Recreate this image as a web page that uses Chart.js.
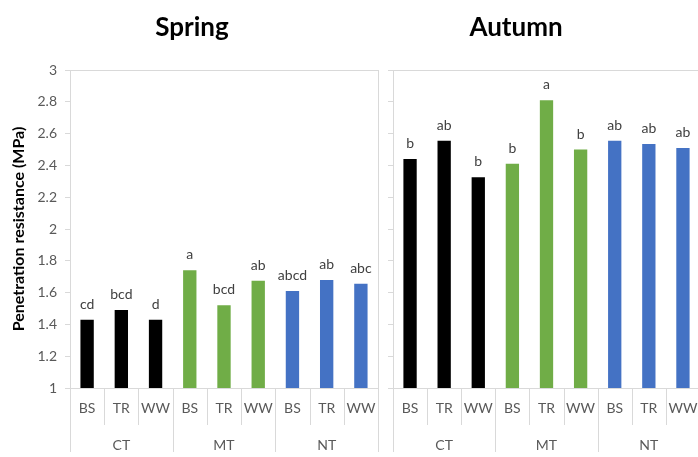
<!DOCTYPE html>
<html>
<head>
<meta charset="utf-8">
<script src="https://cdn.jsdelivr.net/npm/chart.js@4.4.0/dist/chart.umd.min.js"></script>
<style>
  html, body { margin: 0; padding: 0; background: #fff; overflow: hidden; width: 698px; height: 457px; }
  #wrap { position: relative; width: 698px; height: 457px; }
  canvas { position: absolute; top: 0; }
  #springCanvas { left: 0; }
  #autumnCanvas { left: 385px; }
  .season { position: absolute; top: 11px; font: bold 26px Lato, "Liberation Sans", sans-serif; color: #000; line-height: 30px; text-align: center; width: 160px; }
  #springTitle { left: 112px; }
  #autumnTitle { left: 436px; }
</style>
</head>
<body>
<div id="wrap">
  <canvas id="springCanvas" width="385" height="457"></canvas>
  <canvas id="autumnCanvas" width="320" height="457"></canvas>
  <div class="season" id="springTitle">Spring</div>
  <div class="season" id="autumnTitle">Autumn</div>
</div>
<script>
// Residue treatments (inner axis level) and tillage systems (outer axis level)
const treatments = ['BS', 'TR', 'WW'];
const tillage = ['CT', 'MT', 'NT'];

// Penetration resistance (MPa), ordered CT-BS, CT-TR, CT-WW, MT-BS, ... NT-WW
const springValues = [1.43, 1.49, 1.43, 1.74, 1.52, 1.675, 1.61, 1.68, 1.655];
const autumnValues = [2.44, 2.555, 2.325, 2.41, 2.81, 2.50, 2.555, 2.535, 2.51];

// Significance letters shown above each bar
const springLetters = ['cd', 'bcd', 'd', 'a', 'bcd', 'ab', 'abcd', 'ab', 'abc'];
const autumnLetters = ['b', 'ab', 'b', 'b', 'a', 'b', 'ab', 'ab', 'ab'];

// Y axis range
const yMin = 1, yMax = 3, yStep = 0.2;

const tillageColors = { CT: '#000000', MT: '#70AD47', NT: '#4472C4' };
const GRID = '#D9D9D9';
const TEXT = '#595959';
const FONT = 'Lato, "Liberation Sans", sans-serif';

// Flattened category list: every treatment under every tillage system
const barTillage = tillage.flatMap(t => treatments.map(() => t));
const barLabels = tillage.flatMap(t => treatments.map(r => t + ' ' + r));

// Frame, two-level category axis and letter labels
const panelDecor = {
  id: 'panelDecor',
  afterDraw(chart, args, opts) {
    const { ctx, chartArea: a } = chart;
    const x = chart.scales.x;
    const n = barLabels.length;
    const per = treatments.length;
    const innerBottom = a.bottom + 37;
    const outerBottom = a.bottom + 64;
    ctx.save();
    ctx.strokeStyle = GRID;
    ctx.lineWidth = 1;
    // top edge of the plot frame
    ctx.beginPath();
    ctx.moveTo(a.left, Math.round(a.top) + 0.5);
    ctx.lineTo(a.right, Math.round(a.top) + 0.5);
    ctx.stroke();
    // category boundaries
    for (let i = 0; i <= n; i++) {
      const px = Math.round(x.getPixelForValue(i - 0.5)) + 0.5;
      const edge = (i === 0 || i === n);
      const y0 = edge ? a.top : a.bottom;
      const y1 = (i % per === 0) ? outerBottom : innerBottom;
      ctx.beginPath();
      ctx.moveTo(px, y0);
      ctx.lineTo(px, y1);
      ctx.stroke();
    }
    // inner labels
    ctx.fillStyle = TEXT;
    ctx.font = '14px ' + FONT;
    ctx.textAlign = 'center';
    ctx.textBaseline = 'middle';
    for (let i = 0; i < n; i++) {
      ctx.fillText(treatments[i % per], x.getPixelForValue(i), a.bottom + 20);
    }
    // outer labels
    tillage.forEach((t, g) => {
      const mid = x.getPixelForValue(g * per + (per - 1) / 2);
      ctx.fillText(t, mid, a.bottom + 57);
    });
    // letters above bars
    const meta = chart.getDatasetMeta(0);
    ctx.fillStyle = '#404040';
    ctx.font = '14px ' + FONT;
    ctx.textBaseline = 'alphabetic';
    meta.data.forEach((bar, i) => {
      ctx.fillText(opts.letters[i], bar.x, bar.y - 11);
    });
    ctx.restore();
  }
};

function makePanel(canvasId, values, letters, showLabels, rightPad, yTitle) {
  return new Chart(document.getElementById(canvasId), {
    type: 'bar',
    data: {
      labels: barLabels,
      datasets: [{
        data: values,
        backgroundColor: barTillage.map(t => tillageColors[t]),
        borderWidth: 0,
        categoryPercentage: 1,
        barPercentage: 0.39
      }]
    },
    options: {
      responsive: false,
      animation: false,
      devicePixelRatio: 1,
      layout: { padding: { top: 70, right: rightPad, left: 0, bottom: 0 } },
      plugins: {
        legend: { display: false },
        tooltip: { enabled: false },
        panelDecor: { letters: letters }
      },
      scales: {
        x: {
          grid: { display: false },
          border: { display: true, color: GRID },
          ticks: { display: false },
          afterFit(scale) { scale.height = 69; }
        },
        y: {
          min: yMin,
          max: yMax,
          grid: { drawOnChartArea: false, drawTicks: true, tickLength: 5, color: GRID },
          border: { display: true, color: GRID },
          ticks: {
            stepSize: yStep,
            padding: showLabels ? 8 : 0,
            color: TEXT,
            font: { family: FONT, size: 14 },
            callback: v => showLabels ? String(Math.round(v * 10) / 10) : ''
          },
          title: yTitle ? {
            display: true,
            text: yTitle,
            color: '#000',
            font: { family: FONT, size: 16, weight: 'bold' },
            padding: { top: 9, bottom: 0 }
          } : { display: false },
          afterFit(scale) { scale.width = showLabels ? 70 : 8; }
        }
      }
    },
    plugins: [panelDecor]
  });
}

makePanel('springCanvas', springValues, springLetters, true, 7, 'Penetration resistance (MPa)');
makePanel('autumnCanvas', autumnValues, autumnLetters, false, 5, null);
</script>
</body>
</html>
